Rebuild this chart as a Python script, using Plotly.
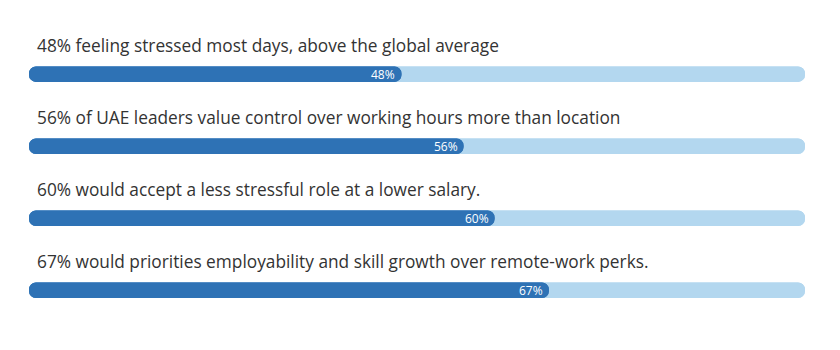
import plotly.graph_objects as go

labels = [
    "48% feeling stressed most days, above the global average",
    "56% of UAE leaders value control over working hours more than location",
    "60% would accept a less stressful role at a lower salary.",
    "67% would priorities employability and skill growth over remote-work perks.",
]
values = [48, 56, 60, 67]
total = 100
rows = list(range(len(values)))

DARK = "#2e72b5"
LIGHT = "#b3d7ef"
FONT = "Open Sans"
BAR_W = 0.215

fig = go.Figure()

# track: two overlapping bars so that both ends are rounded
fig.add_trace(go.Bar(y=rows, x=[-total] * len(rows), base=[total] * len(rows), orientation="h",
                     width=BAR_W, marker=dict(color=LIGHT, cornerradius=8, line=dict(width=0)),
                     hoverinfo="skip", showlegend=False))
fig.add_trace(go.Bar(y=rows, x=[total] * len(rows), base=[0] * len(rows), orientation="h",
                     width=BAR_W, marker=dict(color=LIGHT, cornerradius=8, line=dict(width=0)),
                     hoverinfo="skip", showlegend=False))
# value bars
fig.add_trace(go.Bar(y=rows, x=[-v for v in values], base=values, orientation="h",
                     width=BAR_W, marker=dict(color=DARK, cornerradius=8, line=dict(width=0)),
                     hoverinfo="skip", showlegend=False))
fig.add_trace(go.Bar(y=rows, x=values, base=[0] * len(rows), orientation="h",
                     width=BAR_W, marker=dict(color=DARK, cornerradius=8, line=dict(width=0)),
                     hoverinfo="skip", showlegend=False))

annotations = []
for r, (lab, v) in enumerate(zip(labels, values)):
    annotations.append(dict(x=0, y=r, xref="x", yref="y", text=lab, showarrow=False,
                            xanchor="left", yanchor="middle", xshift=6, yshift=28.5,
                            font=dict(family=FONT, size=17.3, color="#333333")))
    annotations.append(dict(x=v, y=r, xref="x", yref="y", text=f"{v}%", showarrow=False,
                            xanchor="right", yanchor="middle", xshift=-4, yshift=0,
                            font=dict(family=FONT, size=12, color="white")))

fig.update_layout(
    width=840, height=350,
    margin=dict(l=29, r=35, t=0, b=0),
    paper_bgcolor="white", plot_bgcolor="white",
    barmode="overlay",
    xaxis=dict(range=[0, total], visible=False, fixedrange=True),
    yaxis=dict(range=[3.83, -1.03], visible=False, fixedrange=True),
    annotations=annotations,
    showlegend=False,
)

fig.write_html("out.html")
